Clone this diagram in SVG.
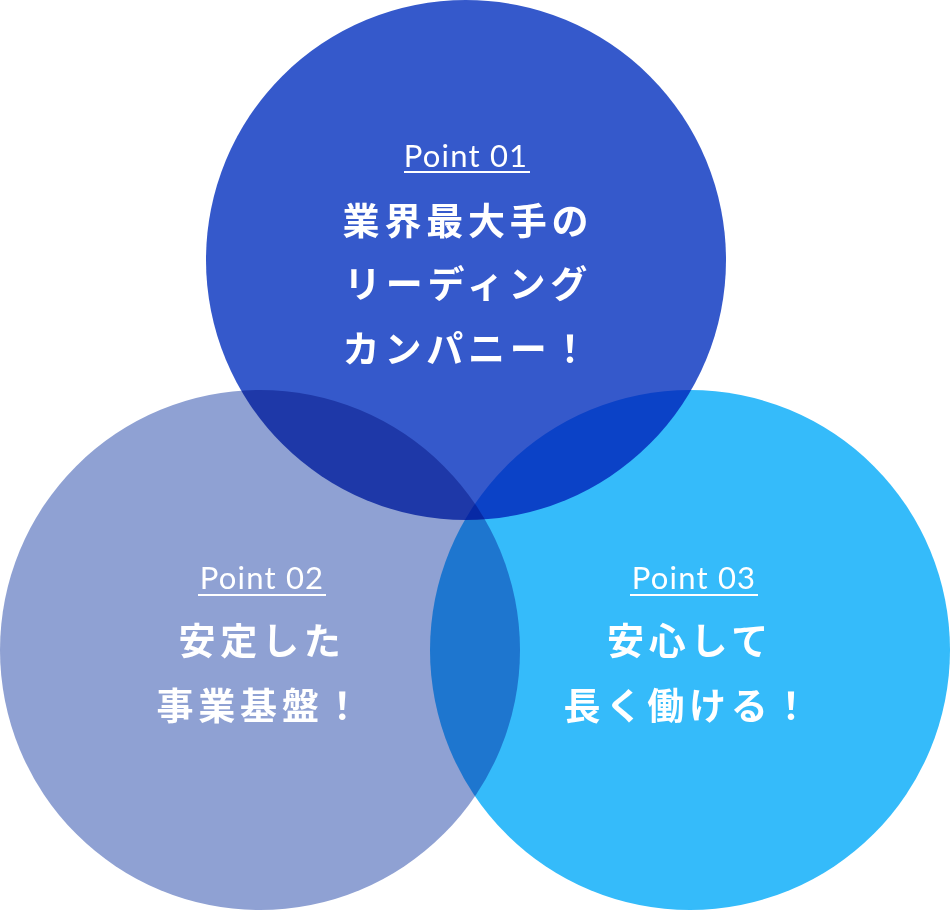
<svg xmlns="http://www.w3.org/2000/svg" width="950" height="910" viewBox="0 0 950 910">
<style>
.c{mix-blend-mode:multiply}
.pt{font-family:Lato,"Noto Sans","Liberation Sans",sans-serif;font-size:31px;fill:#fff;letter-spacing:1.2px;text-anchor:middle}
.jp{font-family:"Noto Sans CJK JP","Noto Sans",sans-serif;font-weight:700;font-size:37px;fill:#fff;letter-spacing:4.8px;text-anchor:middle}
.ul{stroke:#fff;stroke-width:2}
</style>
<rect width="950" height="910" fill="#fff"/>
<g id="circles" style="isolation:isolate">
<circle class="c" cx="466" cy="260" r="260" fill="#3559CB"/>
<circle class="c" cx="260" cy="650" r="260" fill="#8FA1D3"/>
<circle class="c" cx="690" cy="650" r="260" fill="#35BBFA"/>
</g>
<g id="point01">
<text class="pt" x="466" y="167">Point 01</text>
<line class="ul" x1="404" y1="172" x2="530" y2="172"/>
<text class="jp" x="468" y="235">業界最大手の</text>
<text class="jp" x="468" y="298">リーディング</text>
<text class="jp" x="468" y="363">カンパニー！</text>
</g>
<g id="point02">
<text class="pt" x="262" y="589">Point 02</text>
<line class="ul" x1="198" y1="595" x2="326" y2="595"/>
<text class="jp" x="262" y="655">安定した</text>
<text class="jp" x="261" y="720">事業基盤！</text>
</g>
<g id="point03">
<text class="pt" x="694" y="589">Point 03</text>
<line class="ul" x1="630" y1="595" x2="758" y2="595"/>
<text class="jp" x="690" y="655">安心して</text>
<text class="jp" x="689" y="720">長く働ける！</text>
</g>
<g id="connectors"/>
</svg>
